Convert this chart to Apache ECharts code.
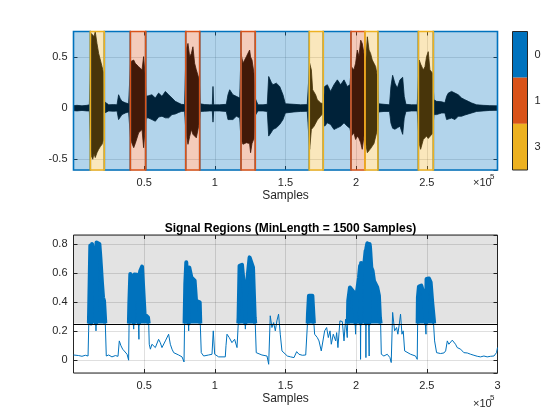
<!DOCTYPE html>
<html><head><meta charset="utf-8">
<script src="https://cdn.jsdelivr.net/npm/echarts@6/dist/echarts.min.js"></script>
<style>html,body{margin:0;padding:0;background:#fff}#c{width:560px;height:420px}</style>
</head><body><div id="c"></div>
<script>
// ---- Top panel: audio waveform envelope (sample position in thousands) ----
const waveK = [0,2.5,6.0,9.5,11.2,11.9,12.6,13.6,14.5,15.4,16.6,17.8,19.0,20.2,21.3,22.0,24.9,28.4,30.8,31.9,33.1,34.3,36.7,39.0,40.4,41.4,42.6,43.7,46.1,48.5,49.6,50.6,51.3,53.2,55.5,57.9,60.2,62.6,65.0,67.3,69.7,72.0,74.4,76.3,78.6,79.6,81.0,82.2,83.4,84.5,85.7,86.9,88.1,89.0,89.7,92.8,96.3,98.2,98.7,99.2,103.4,108.1,109.3,110.5,112.8,115.2,117.6,118.5,119.9,122.3,124.6,125.3,126.3,127.7,128.4,130.5,134.1,137.1,138.1,140.0,141.1,143.5,145.9,148.2,149.9,151.3,156.0,160.7,165.4,167.1,168.3,169.2,170.2,171.3,172.5,174.9,176.8,177.7,179.6,181.9,184.3,186.7,189.0,191.4,193.7,195.6,196.6,198.4,199.6,200.8,202.0,203.2,204.3,205.5,206.7,207.9,209.1,210.2,211.4,212.6,213.8,215.0,215.9,219.7,223.6,224.6,225.8,227.4,229.1,231.0,232.9,234.0,235.2,239.2,243.2,244.6,245.6,247.5,248.7,249.8,251.0,252.2,254.1,255.0,256.9,260.5,262.8,264.0,265.2,267.5,269.9,272.2,274.6,276.9,279.3,281.7,285.2,289.9,294.6,300.0];
const waveUpper = [0.022,0.025,0.02,0.025,0.03,0.35,0.73,0.747,0.70,0.747,0.633,0.535,0.47,0.405,0.34,0.06,0.03,0.032,0.03,0.129,0.09,0.064,0.05,0.04,0.454,0.44,0.47,0.438,0.405,0.373,0.503,0.34,0.113,0.12,0.129,0.097,0.145,0.113,0.162,0.129,0.097,0.064,0.048,0.035,0.032,0.568,0.633,0.503,0.535,0.6,0.438,0.373,0.389,0.275,0.04,0.032,0.03,0.03,0.21,0.03,0.03,0.035,0.129,0.178,0.129,0.113,0.097,0.535,0.438,0.503,0.568,0.5,0.47,0.34,0.1,0.03,0.03,0.035,0.308,0.25,0.227,0.243,0.21,0.129,0.04,0.03,0.035,0.03,0.032,0.438,0.373,0.178,0.194,0.129,0.08,0.048,0.04,0.21,0.227,0.162,0.227,0.275,0.227,0.275,0.21,0.227,0.405,0.373,0.438,0.568,0.503,0.665,0.633,0.535,0.438,0.698,0.568,0.535,0.47,0.438,0.405,0.308,0.04,0.035,0.03,0.21,0.32,0.243,0.194,0.275,0.3,0.113,0.035,0.03,0.03,0.47,0.43,0.373,0.405,0.503,0.552,0.373,0.34,0.08,0.064,0.06,0.05,0.113,0.145,0.162,0.145,0.129,0.097,0.08,0.064,0.048,0.03,0.025,0.022,0.02];
const waveLower = [-0.027,-0.03,-0.025,-0.03,-0.03,-0.30,-0.47,-0.505,-0.45,-0.488,-0.44,-0.407,-0.38,-0.358,-0.31,-0.05,-0.03,-0.033,-0.03,-0.115,-0.1,-0.066,-0.05,-0.04,-0.31,-0.35,-0.391,-0.35,-0.245,-0.212,-0.391,-0.22,-0.098,-0.1,-0.115,-0.131,-0.09,-0.082,-0.098,-0.098,-0.066,-0.06,-0.045,-0.035,-0.033,-0.245,-0.358,-0.28,-0.212,-0.26,-0.245,-0.294,-0.212,-0.147,-0.035,-0.033,-0.03,-0.03,-0.14,-0.03,-0.03,-0.035,-0.115,-0.115,-0.115,-0.082,-0.098,-0.31,-0.358,-0.342,-0.35,-0.44,-0.35,-0.3,-0.08,-0.03,-0.03,-0.035,-0.277,-0.24,-0.212,-0.196,-0.163,-0.115,-0.05,-0.035,-0.04,-0.035,-0.033,-0.407,-0.212,-0.2,-0.18,-0.163,-0.12,-0.08,-0.05,-0.18,-0.147,-0.163,-0.212,-0.196,-0.18,-0.147,-0.18,-0.2,-0.277,-0.245,-0.31,-0.277,-0.3,-0.342,-0.407,-0.277,-0.342,-0.44,-0.456,-0.4,-0.407,-0.35,-0.35,-0.212,-0.04,-0.035,-0.035,-0.15,-0.2,-0.21,-0.196,-0.18,-0.26,-0.1,-0.035,-0.03,-0.03,-0.35,-0.407,-0.31,-0.3,-0.277,-0.3,-0.31,-0.25,-0.066,-0.066,-0.05,-0.05,-0.115,-0.131,-0.1,-0.115,-0.082,-0.082,-0.07,-0.06,-0.05,-0.035,-0.03,-0.025,-0.024];

// Labelled regions (thousands of samples) and their labels
const regionStartK = [11.9, 40.2, 79.4, 118.5, 166.8, 196.3, 206.2, 244.0];
const regionEndK   = [21.8, 51.1, 89.3, 128.6, 176.7, 206.2, 215.4, 254.6];
const regionLabel  = ['3', '1', '1', '1', '3', '1', '3', '3'];
const labelNames   = ['0', '1', '3'];
const labelColors  = ['#0072BD', '#D95319', '#EDB120'];

// ---- Bottom panel: signal energy ----
const energyK = [0,1.3,3.7,6.0,8.4,10.3,10.7,11.2,11.9,12.4,13.1,14.3,15.0,15.5,15.9,16.3,17.3,18.3,19.0,19.7,20.2,20.9,21.6,22.3,22.5,23.2,24.9,27.2,29.6,31.5,32.4,33.6,34.8,36.2,37.9,39.0,39.5,40.2,41.4,42.6,43.0,43.7,44.9,46.1,46.3,46.6,47.3,48.5,49.6,50.3,51.3,52.7,53.2,53.6,54.4,55.5,57.9,60.2,61.4,62.6,65.0,67.3,68.5,69.7,70.9,72.0,74.4,76.8,78.2,78.6,79.1,79.8,81.0,81.5,81.9,83.4,84.3,85.7,86.7,88.1,89.3,89.7,90.4,92.1,95.6,98.0,98.9,99.9,102.7,107.4,107.9,108.6,110.2,112.1,114.0,115.7,116.8,117.5,119.2,120.4,121.1,121.6,122.0,123.4,124.6,125.8,127.0,128.2,128.6,129.3,133.3,136.9,138.1,139.2,140.4,141.6,142.8,143.9,145.1,146.3,147.5,148.7,151.3,153.6,156.0,157.9,159.5,161.9,164.3,165.4,165.9,166.6,167.8,169.0,169.7,170.1,170.6,172.5,173.7,175.3,176.7,177.7,179.1,180.3,181.5,182.4,183.8,185.5,186.2,187.1,188.5,190.2,191.4,192.5,193.7,194.4,195.6,196.8,198.4,199.0,199.6,200.2,200.8,202.0,202.8,203.1,203.5,204.3,205.5,206.7,206.9,207.2,207.9,209.0,209.2,209.5,209.8,210.7,211.6,212.6,213.7,214.9,216.1,216.8,217.3,217.8,219.6,222.0,223.9,224.8,225.8,227.2,228.6,229.5,230.5,231.4,232.4,233.3,234.3,235.7,238.5,242.0,243.2,243.7,244.4,246.1,247.5,248.9,249.4,249.8,251.5,252.7,253.8,255.0,255.5,256.9,259.7,262.1,263.3,264.5,265.6,266.8,268.0,269.2,270.3,271.5,272.7,273.9,275.1,276.2,278.6,281.0,283.3,285.7,288.0,290.4,292.7,295.1,297.5,299.3,300.0];
const energyVal = [0.036,0.027,0.032,0.027,0.034,0.029,0.20,0.409,0.789,0.243,0.80,0.789,0.708,0.76,0.202,0.811,0.818,0.80,0.708,0.72,0.524,0.432,0.409,0.409,0.253,0.029,0.036,0.023,0.032,0.027,0.133,0.099,0.076,0.087,0.041,0.0,0.386,0.593,0.598,0.214,0.59,0.593,0.588,0.581,0.144,0.58,0.616,0.644,0.639,0.317,0.306,0.294,0.253,0.11,0.076,0.11,0.087,0.144,0.121,0.087,0.133,0.179,0.11,0.076,0.052,0.041,0.036,0.023,-0.012,0.253,0.524,0.674,0.667,0.202,0.639,0.57,0.575,0.547,0.409,0.409,0.398,0.253,0.052,0.029,0.036,0.041,0.202,0.041,0.023,0.023,0.10,0.179,0.156,0.121,0.144,0.087,0.294,0.65,0.657,0.65,0.455,0.214,0.444,0.593,0.708,0.713,0.639,0.294,0.253,0.052,0.036,0.029,-0.028,0.306,0.225,0.259,0.202,0.271,0.317,0.179,0.064,0.052,0.029,0.023,0.018,0.059,0.041,0.034,0.036,0.029,0.317,0.444,0.448,0.444,0.317,0.253,0.179,0.156,0.133,0.064,0.052,0.202,0.225,0.156,0.202,0.11,0.179,0.133,0.19,0.087,0.271,0.266,0.133,0.282,0.156,0.409,0.501,0.513,0.466,0.455,0.179,0.444,0.432,0.57,0.65,0.006,0.67,0.674,0.639,0.754,0.018,0.77,0.805,0.805,0.029,0.80,0.777,0.639,0.616,0.547,0.536,0.501,0.444,0.294,0.253,0.041,0.029,0.041,0.018,-0.016,0.329,0.202,0.225,0.179,0.248,0.317,0.179,0.202,0.064,0.052,0.041,0.029,0.006,0.432,0.506,0.513,0.466,0.466,0.179,0.559,0.563,0.536,0.398,0.386,0.133,0.052,0.046,0.05,0.064,0.133,0.11,0.121,0.138,0.144,0.11,0.087,0.099,0.076,0.064,0.052,0.05,0.041,0.034,0.027,0.023,0.029,0.023,0.027,0.029,0.052,0.087];
const threshold = 0.253;
const aboveStartK = [10.9, 39.2, 78.6, 116.6, 165.7, 194.1, 243.5];
const aboveEndK   = [22.5, 53.2, 89.7, 128.6, 170.1, 217.3, 255.2];

const titleText = 'Signal Regions (MinLength = 1500 Samples)';
const xLabelText = 'Samples';

// ---------------------------------------------------------------
const FONT = '"Liberation Sans", Arial, Helvetica, sans-serif';
const TXT = '#262626';
const K = 1000;
const XMAX = 300000;
const alphaOf = {'#0072BD':'rgba(0,114,189,0.3)','#D95319':'rgba(217,83,25,0.3)','#EDB120':'rgba(237,177,32,0.3)'};
const colorOfLabel = l => labelColors[labelNames.indexOf(l)];

// Patches: label '0' fills the gaps between labelled regions
const patches = [];
let cursor = 0;
regionStartK.forEach((s, i) => {
  if (s * K > cursor) patches.push({a: cursor, b: s * K, label: '0'});
  cursor = regionEndK[i] * K;
});
if (cursor < XMAX) patches.push({a: cursor, b: XMAX, label: '0'});
regionStartK.forEach((s, i) => patches.push({a: s * K, b: regionEndK[i] * K, label: regionLabel[i]}));
const patchData = patches.map(p => {
  const c = colorOfLabel(p.label);
  return [{xAxis: p.a, itemStyle: {color: alphaOf[c], borderColor: c, borderWidth: 1.6}}, {xAxis: p.b}];
});

const upperData = waveK.map((k, i) => [k * K, waveUpper[i]]);
const lowerData = waveK.map((k, i) => [k * K, waveLower[i]]);
const energyData = energyK.map((k, i) => [k * K, energyVal[i]]);
const thickData = [];
aboveStartK.forEach((s, i) => {
  const e = aboveEndK[i];
  thickData.push([s * K, threshold]);
  energyK.forEach((k, j) => { if (k > s && k < e) thickData.push([k * K, Math.max(energyVal[j], threshold)]); });
  thickData.push([e * K, threshold]);
  thickData.push([e * K, '-']);
});

const tickStyle = {show: true, inside: true, length: 4, lineStyle: {color: TXT, width: 1}};
const splitStyle = {show: true, lineStyle: {color: 'rgba(38,38,38,0.15)', width: 1}};
const lbl = {color: TXT, fontSize: 11, fontFamily: FONT};
const xFmt = hideMax => v => (v === 0 || (hideMax && v === XMAX)) ? '' : String(+(v / 1e5).toFixed(2));

function xAx(grid, pos, labels, hideMax) {
  return {gridIndex: grid, type: 'value', min: 0, max: XMAX, interval: 50000, position: pos,
    axisLine: {show: false, onZero: false}, axisTick: tickStyle,
    axisLabel: labels ? Object.assign({formatter: xFmt(hideMax), margin: 7}, lbl) : {show: false},
    splitLine: labels ? splitStyle : {show: false},
    name: labels ? xLabelText : '', nameLocation: 'middle', nameGap: 20,
    nameTextStyle: {color: TXT, fontSize: 12, fontFamily: FONT}};
}
function yAx(grid, pos, labels, min, max, split) {
  return {gridIndex: grid, type: 'value', min: min, max: max, splitNumber: split, position: pos,
    axisLine: {show: false, onZero: false}, axisTick: tickStyle,
    axisLabel: labels ? Object.assign({showMinLabel: false, showMaxLabel: false, margin: 6}, lbl) : {show: false},
    splitLine: labels ? splitStyle : {show: false}};
}

const option = {
  animation: false,
  backgroundColor: '#ffffff',
  title: {text: titleText, left: 285.5, top: 218, textAlign: 'center',
    textStyle: {fontSize: 12, fontWeight: 'bold', color: '#000', fontFamily: FONT}},
  grid: [
    {left: 73.5, top: 31.5, width: 424, height: 138.5},
    {left: 73.5, top: 235, width: 424, height: 138, show: true, borderColor: TXT, borderWidth: 1, backgroundColor: 'transparent'},
    {left: 512.5, top: 31.5, width: 15, height: 138.5}
  ],
  xAxis: [
    xAx(0, 'bottom', true, true), xAx(0, 'top', false, true),
    xAx(1, 'bottom', true, false), xAx(1, 'top', false, false),
    {gridIndex: 2, type: 'value', min: 0, max: 1, show: false}
  ],
  yAxis: [
    yAx(0, 'left', true, -0.61, 0.75, 3), yAx(0, 'right', false, -0.61, 0.75, 3),
    yAx(1, 'left', true, -0.088, 0.862, 5), yAx(1, 'right', false, -0.088, 0.862, 5),
    {gridIndex: 2, type: 'category', data: labelNames, inverse: true, position: 'right',
     axisLine: {show: false}, axisTick: {show: false}, splitLine: {show: false},
     axisLabel: Object.assign({margin: 7}, lbl)}
  ],
  series: [
    {type: 'line', xAxisIndex: 0, yAxisIndex: 0, data: upperData, symbol: 'none', z: 2, silent: true,
     lineStyle: {color: '#000', width: 0.8}, areaStyle: {color: '#000', opacity: 1}},
    {type: 'line', xAxisIndex: 0, yAxisIndex: 0, data: lowerData, symbol: 'none', z: 2, silent: true,
     lineStyle: {color: '#000', width: 0.8}, areaStyle: {color: '#000', opacity: 1}},
    {type: 'line', xAxisIndex: 0, yAxisIndex: 0, data: [], symbol: 'none', silent: true,
     markArea: {silent: true, z: 10, data: patchData}},
    {type: 'line', xAxisIndex: 2, yAxisIndex: 2, data: energyData, symbol: 'none', z: 3, silent: true,
     lineStyle: {color: '#0072BD', width: 1},
     markArea: {silent: true, z: 1, itemStyle: {color: 'rgba(0,0,0,0.11)'},
       data: [[{yAxis: threshold}, {yAxis: 0.862}]]},
     markLine: {silent: true, symbol: 'none', z: 6, label: {show: false},
       lineStyle: {color: '#000', width: 1, type: 'solid'}, data: [{yAxis: threshold}]}},
    {type: 'line', xAxisIndex: 2, yAxisIndex: 2, data: thickData, symbol: 'none', z: 4, silent: true,
     connectNulls: false, lineStyle: {color: '#0072BD', width: 4, join: 'round'},
     areaStyle: {color: '#0072BD', opacity: 1, origin: threshold}},
    {type: 'bar', xAxisIndex: 4, yAxisIndex: 4, barWidth: '100%', barCategoryGap: '0%', silent: true,
     data: labelColors.map(c => ({value: 1, itemStyle: {color: c}}))}
  ],
  graphic: [
    {type: 'rect', shape: {x: 512.5, y: 31.5, width: 15, height: 138.5}, silent: true, z: 100,
     style: {fill: 'none', stroke: TXT, lineWidth: 1}},
    {type: 'text', x: 473, y: 177, silent: true, style: {text: '×10', fill: TXT, font: '11px ' + FONT}},
    {type: 'text', x: 490, y: 173, silent: true, style: {text: '5', fill: TXT, font: '8px ' + FONT}},
    {type: 'text', x: 473, y: 398, silent: true, style: {text: '×10', fill: TXT, font: '11px ' + FONT}},
    {type: 'text', x: 490, y: 394, silent: true, style: {text: '5', fill: TXT, font: '8px ' + FONT}}
  ]
};
const chart = echarts.init(document.getElementById('c'), null, {renderer: 'canvas'});
chart.setOption(option);
</script></body></html>
